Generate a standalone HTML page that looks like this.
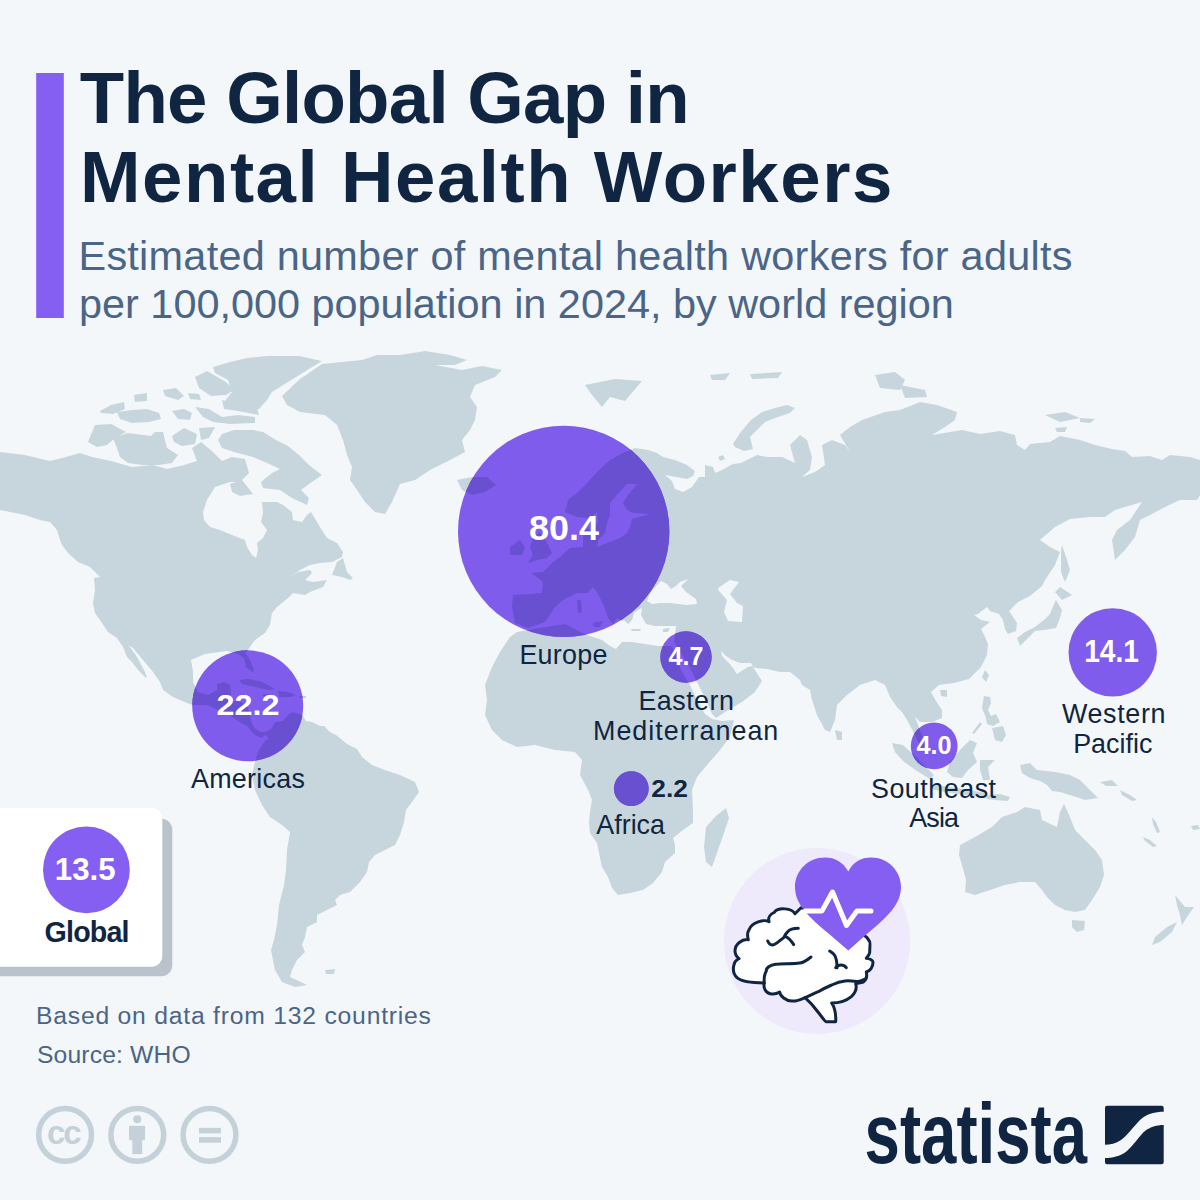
<!DOCTYPE html>
<html><head><meta charset="utf-8"><style>
html,body{margin:0;padding:0;background:#f3f7fa;}
body{width:1200px;height:1200px;overflow:hidden;position:relative;}
svg{position:absolute;left:0;top:0;}
text{font-family:"Liberation Sans",sans-serif;}
</style></head><body>
<svg width="1200" height="1200" viewBox="0 0 1200 1200">
<defs><clipPath id="cc"><circle cx="563.7" cy="531.4" r="105.7"/><circle cx="247.7" cy="705.8" r="55.5"/><circle cx="686" cy="657" r="25.7"/><circle cx="631.3" cy="788.6" r="17.4"/><circle cx="1112.7" cy="652.4" r="44.2"/><circle cx="934.2" cy="745.9" r="23.4"/></clipPath></defs>
<rect x="0" y="0" width="1200" height="1200" fill="#f3f7fa"/>
<rect x="36.2" y="73" width="27.6" height="245" fill="#855ff1"/>
<path d="M0,452 25,455 50,461 66,457 80,453 92,457 111,461 132,467 153,465 167,469 184,465 197,461 192,448 201,442 213,452 222,461 232,457 245,459 249,473 240,482 230,482 215,487 207,500 203,512 204,520 210,527 220,530 237,537 245,540 247,547 252,555 256,558 258,550 257,543 263,538 267,530 261,522 263,513 262,502 277,502 283,505 292,512 293,520 302,522 307,515 311,512 320,527 327,538 337,543 343,552 342,557 332,562 320,563 310,565 300,570 290,577 298,572 310,570 312,573 305,580 313,582 327,580 323,587 310,592 305,595 293,593 288,598 277,607 272,613 270,625 265,633 255,640 250,647 248,650 245,653 249,658 254,670 252,672 246,667 244,658 238,654 227,651 205,654 191,660 193,672 193,682 198,692 208,695 217,690 217,684 224,682 230,685 231,694 230,701 234,701 241,702 247,705 249,712 251,721 255,729 261,732 266,732 272,728 275,722 269,739 266,735 261,738 255,735 247,726 238,721 230,715 220,711 207,705 193,705 187,703 173,697 163,690 160,682 153,672 143,660 133,648 128,645 130,647 137,657 145,672 147,678 145,677 138,670 132,662 127,657 123,647 117,638 108,632 102,623 95,613 93,603 95,590 94,578 100,577 90,567 78,562 68,553 62,545 60,540 57,530 50,522 40,520 25,515 10,512 0,510ZM282,396 300,379 322,364 362,360 377,355 400,355 425,351 450,355 467,360 455,365 435,365 462,370 482,366 502,370 495,377 475,385 470,397 477,407 475,420 470,430 462,440 465,452 450,460 430,470 415,480 400,484 392,502 385,514 375,512 365,502 357,490 350,480 352,467 347,455 343,440 337,425 325,415 300,412 287,405ZM332,575 337,562 343,558 347,572 353,578 350,580 342,577ZM239,680 249,679 262,682 275,689 269,690 255,687 242,684ZM263,694 269,694 268,697 263,696ZM278,691 288,692 296,695 290,697 279,697ZM272,728 275,722 283,721 288,715 293,712 302,715 306,721 312,722 320,726 324,726 330,732 336,735 347,744 357,749 362,757 372,765 385,770 400,775 415,782 419,792 412,802 406,810 404,822 400,835 395,845 385,850 375,855 369,862 367,872 360,882 350,892 340,895 335,900 337,905 327,910 317,915 317,922 307,927 305,937 302,945 305,952 297,960 292,970 290,977 307,985 295,987 282,982 275,970 271,950 274,940 277,925 279,905 284,885 286,870 287,850 290,832 282,825 270,817 262,805 255,790 252,775 255,762 258,752 262,745 266,740 269,739ZM325,970 335,969 334,974 326,974ZM517,632 540,628 565,624 580,632 590,636 602,640 610,646 616,649 622,642 632,642 645,644 658,646 670,646 673,648 677,660 682,672 690,685 697,700 705,714 712,719 722,721 734,720 730,737 720,750 707,765 697,777 692,790 693,810 693,823 683,830 673,838 675,845 675,853 665,862 662,872 653,883 643,890 630,893 618,895 612,888 608,877 602,867 599,853 597,843 590,833 589,822 590,812 592,800 588,790 580,775 582,760 575,752 555,750 535,745 517,747 502,740 492,730 485,715 487,700 485,685 492,667 500,652 510,637ZM726,808 729,818 724,833 717,853 712,867 706,862 704,847 706,827 716,816ZM676,626 666,626 655,626 646,624 641,615 642,608 638,610 634,613 632,620 628,624 624,620 622,613 616,606 607,596 600,585 606,593 614,602 621,611 626,618 622,621 617,618 613,624 608,618 604,606 597,592 593,587 587,593 577,593 563,600 555,607 545,622 528,628 515,623 512,607 513,595 530,594 542,593 543,582 531,573 543,572 553,562 560,557 570,548 583,547 583,533 588,528 590,530 598,522 597,512 590,518 577,517 565,512 568,500 577,493 587,483 597,472 610,460 623,453 635,448 648,450 657,453 663,457 675,460 687,465 695,471 693,476 687,479 676,477 665,475 672,481 675,489 683,492 692,487 699,477 705,477 705,465 713,467 715,473 720,471 733,464 741,463 757,455 767,457 782,457 795,463 790,445 800,435 807,440 812,457 810,470 802,477 815,472 825,465 822,445 832,440 845,445 850,452 840,435 850,427 862,420 885,412 900,410 920,402 937,405 957,412 955,420 945,427 932,435 962,430 980,434 1000,431 1015,435 1017,445 1025,450 1030,444 1050,442 1060,436 1080,440 1095,445 1112,449 1125,451 1132,457 1150,456 1162,460 1170,455 1190,457 1200,460 1200,495 1197,500 1180,500 1165,507 1150,515 1140,520 1135,537 1125,550 1115,560 1112,540 1117,530 1130,520 1142,502 1125,507 1115,510 1105,517 1090,517 1070,519 1055,527 1040,540 1050,547 1060,552 1055,565 1045,580 1042,586 1030,596 1018,602 1009,611 1017,623 1016,631 1008,634 1005,629 1003,620 999,614 990,611 987,607 978,614 974,615 981,620 990,622 981,629 985,637 988,644 987,655 981,667 969,679 954,683 939,685 931,692 936,701 942,710 942,718 932,722 920,722 915,717 920,730 925,742 927,755 922,750 915,735 907,720 902,712 897,707 890,697 885,685 875,680 860,685 847,695 837,705 835,720 830,732 825,730 817,715 812,700 810,690 802,685 800,680 790,672 780,672 767,669 756,668 753,667 762,681 755,692 742,702 725,712 716,718 712,714 706,700 698,684 690,668 682,655 674,642 675,635ZM530,547 533,538 540,532 547,543 552,553 547,558 537,560 528,563 533,555ZM510,547 520,540 525,547 522,555 510,555ZM457,480 472,477 487,477 496,485 485,492 472,495 462,490ZM585,385 600,382 615,379 642,381 630,395 625,401 610,397 602,407 592,395ZM733,444 740,433 751,420 762,412 775,408 787,405 795,408 790,413 778,417 765,422 757,430 750,437 753,449 744,451 735,447ZM710,375 730,373 725,380 712,380ZM750,374 782,372 778,378 752,379ZM875,375 895,372 905,380 900,390 880,388ZM900,385 925,390 927,397 905,398ZM1045,415 1065,412 1080,418 1060,422ZM1080,418 1095,419 1090,423 1080,422ZM1055,428 1067,427 1065,432 1057,432ZM1062,545 1067,560 1070,570 1065,582 1061,572 1061,552ZM1060,587 1072,595 1062,600 1055,592ZM1056,600 1062,610 1060,618 1056,628 1044,630 1035,631 1029,637 1023,643 1020,646 1017,638 1025,632 1035,627 1044,620 1050,614 1054,604ZM985,670 989,675 986,682 982,677ZM940,690 947,690 947,697 941,696ZM984,696 990,697 991,703 988,710 991,716 986,718 982,708ZM992,728 1003,726 1006,735 1002,742 995,740ZM986,718 996,714 1000,722 993,726 987,724ZM835,730 842,732 842,740 837,740ZM892,743 903,745 915,756 927,768 934,775 930,779 917,771 903,761 895,752ZM932,785 950,787 970,790 985,793 983,797 965,795 945,792 931,789ZM947,772 950,762 960,750 970,740 977,743 973,753 977,762 968,770 962,778 953,777ZM980,760 995,760 988,767 990,780 983,780 980,770ZM1020,765 1030,763 1037,770 1055,772 1070,775 1080,780 1090,790 1098,798 1085,800 1070,795 1060,792 1052,791 1047,785 1040,781 1030,778 1022,773ZM1064,804 1070,817 1075,830 1085,840 1095,850 1102,860 1104,875 1100,887 1092,900 1085,910 1075,912 1065,910 1055,905 1047,897 1042,890 1035,882 1020,882 1005,885 990,890 975,895 965,892 966,880 962,865 959,855 960,845 975,837 992,827 1002,817 1017,812 1025,807 1040,810 1042,820 1057,827 1060,812ZM1072,920 1085,921 1084,930 1077,932 1072,927ZM1175,895 1185,907 1194,907 1187,917 1182,925 1180,915 1177,905ZM1177,922 1172,932 1160,942 1152,945 1155,937 1167,927ZM213,367 230,362 247,358 267,356 299,356 322,361 309,369 288,382 272,392 267,400 259,409 242,411 226,409 224,402 232,392 228,380 215,373ZM195,377 207,371 226,382 234,390 226,395 211,396 199,388ZM195,407 209,409 222,417 238,415 255,417 255,423 230,424 213,422 203,417ZM222,400 238,405 257,407 259,415 238,411 224,409ZM163,390 176,388 184,396 178,400 165,396ZM188,393 199,394 201,400 190,399ZM134,395 147,393 147,401 135,402ZM117,412 132,410 147,409 159,413 161,419 149,422 132,423 120,419ZM100,411 111,405 124,402 125,409 113,414 101,413ZM172,411 184,409 192,413 190,420 178,419ZM88,442 95,425 111,424 126,432 115,438 107,445 97,447ZM113,438 128,433 151,436 155,432 163,432 167,448 178,455 172,463 159,465 142,465 128,463 120,457 117,448ZM172,436 184,428 197,434 195,444 182,446 174,442ZM199,428 215,427 209,438 201,440ZM222,434 234,430 253,430 263,432 276,440 288,446 299,455 309,465 322,475 309,484 301,490 309,498 307,505 292,498 280,490 263,488 261,482 272,473 280,469 267,463 253,457 234,452 222,448 218,440ZM230,484 242,480 253,494 240,496 232,492ZM593,623 603,621 600,627 594,627ZM577,600 581,600 582,612 578,613ZM980,722 982,724 974,734 972,733ZM987,795 1000,794 1010,797 1008,801 995,800 986,799ZM718,457 723,455 725,459 720,461ZM663,629 670,628 668,632 663,632ZM631,629 641,629 640,631 632,631ZM1100,782 1112,780 1118,786 1106,786ZM1120,790 1130,795 1137,800 1132,801 1122,795ZM1152,817 1156,822 1160,832 1157,833 1153,824ZM1143,837 1150,840 1157,846 1153,847 1145,841ZM1191,826 1198,825 1200,829 1193,830ZM300,696 306,696 306,698 300,698Z" fill="#c7d6dd" fill-rule="nonzero"/>
<path d="M598,540 597,547 607,543 620,538 627,533 630,527 632,519 650,514 633,513 627,510 623,503 628,495 637,484 627,484 617,495 610,503 610,515 607,523 605,533ZM647,601 650,593 656,586 661,581 667,584 671,589 676,586 680,582 688,579 681,586 686,592 696,599 697,604 686,605 670,603 660,603 652,604ZM718,588 730,580 739,582 730,594 737,603 743,606 742,622 728,621 724,612 727,600 719,591ZM721,651 726,656 732,660 740,663 751,663 753,666 748,667 743,670 737,674 733,668 728,662 722,656Z" fill="#f3f7fa"/>
<circle cx="563.7" cy="531.4" r="105.7" fill="#7f5cec"/><circle cx="247.7" cy="705.8" r="55.5" fill="#7f5cec"/><circle cx="686" cy="657" r="25.7" fill="#7f5cec"/><circle cx="631.3" cy="788.6" r="17.4" fill="#7f5cec"/><circle cx="1112.7" cy="652.4" r="44.2" fill="#7f5cec"/><circle cx="934.2" cy="745.9" r="23.4" fill="#7f5cec"/>
<g clip-path="url(#cc)"><path d="M0,452 25,455 50,461 66,457 80,453 92,457 111,461 132,467 153,465 167,469 184,465 197,461 192,448 201,442 213,452 222,461 232,457 245,459 249,473 240,482 230,482 215,487 207,500 203,512 204,520 210,527 220,530 237,537 245,540 247,547 252,555 256,558 258,550 257,543 263,538 267,530 261,522 263,513 262,502 277,502 283,505 292,512 293,520 302,522 307,515 311,512 320,527 327,538 337,543 343,552 342,557 332,562 320,563 310,565 300,570 290,577 298,572 310,570 312,573 305,580 313,582 327,580 323,587 310,592 305,595 293,593 288,598 277,607 272,613 270,625 265,633 255,640 250,647 248,650 245,653 249,658 254,670 252,672 246,667 244,658 238,654 227,651 205,654 191,660 193,672 193,682 198,692 208,695 217,690 217,684 224,682 230,685 231,694 230,701 234,701 241,702 247,705 249,712 251,721 255,729 261,732 266,732 272,728 275,722 269,739 266,735 261,738 255,735 247,726 238,721 230,715 220,711 207,705 193,705 187,703 173,697 163,690 160,682 153,672 143,660 133,648 128,645 130,647 137,657 145,672 147,678 145,677 138,670 132,662 127,657 123,647 117,638 108,632 102,623 95,613 93,603 95,590 94,578 100,577 90,567 78,562 68,553 62,545 60,540 57,530 50,522 40,520 25,515 10,512 0,510ZM282,396 300,379 322,364 362,360 377,355 400,355 425,351 450,355 467,360 455,365 435,365 462,370 482,366 502,370 495,377 475,385 470,397 477,407 475,420 470,430 462,440 465,452 450,460 430,470 415,480 400,484 392,502 385,514 375,512 365,502 357,490 350,480 352,467 347,455 343,440 337,425 325,415 300,412 287,405ZM332,575 337,562 343,558 347,572 353,578 350,580 342,577ZM239,680 249,679 262,682 275,689 269,690 255,687 242,684ZM263,694 269,694 268,697 263,696ZM278,691 288,692 296,695 290,697 279,697ZM272,728 275,722 283,721 288,715 293,712 302,715 306,721 312,722 320,726 324,726 330,732 336,735 347,744 357,749 362,757 372,765 385,770 400,775 415,782 419,792 412,802 406,810 404,822 400,835 395,845 385,850 375,855 369,862 367,872 360,882 350,892 340,895 335,900 337,905 327,910 317,915 317,922 307,927 305,937 302,945 305,952 297,960 292,970 290,977 307,985 295,987 282,982 275,970 271,950 274,940 277,925 279,905 284,885 286,870 287,850 290,832 282,825 270,817 262,805 255,790 252,775 255,762 258,752 262,745 266,740 269,739ZM325,970 335,969 334,974 326,974ZM517,632 540,628 565,624 580,632 590,636 602,640 610,646 616,649 622,642 632,642 645,644 658,646 670,646 673,648 677,660 682,672 690,685 697,700 705,714 712,719 722,721 734,720 730,737 720,750 707,765 697,777 692,790 693,810 693,823 683,830 673,838 675,845 675,853 665,862 662,872 653,883 643,890 630,893 618,895 612,888 608,877 602,867 599,853 597,843 590,833 589,822 590,812 592,800 588,790 580,775 582,760 575,752 555,750 535,745 517,747 502,740 492,730 485,715 487,700 485,685 492,667 500,652 510,637ZM726,808 729,818 724,833 717,853 712,867 706,862 704,847 706,827 716,816ZM676,626 666,626 655,626 646,624 641,615 642,608 638,610 634,613 632,620 628,624 624,620 622,613 616,606 607,596 600,585 606,593 614,602 621,611 626,618 622,621 617,618 613,624 608,618 604,606 597,592 593,587 587,593 577,593 563,600 555,607 545,622 528,628 515,623 512,607 513,595 530,594 542,593 543,582 531,573 543,572 553,562 560,557 570,548 583,547 583,533 588,528 590,530 598,522 597,512 590,518 577,517 565,512 568,500 577,493 587,483 597,472 610,460 623,453 635,448 648,450 657,453 663,457 675,460 687,465 695,471 693,476 687,479 676,477 665,475 672,481 675,489 683,492 692,487 699,477 705,477 705,465 713,467 715,473 720,471 733,464 741,463 757,455 767,457 782,457 795,463 790,445 800,435 807,440 812,457 810,470 802,477 815,472 825,465 822,445 832,440 845,445 850,452 840,435 850,427 862,420 885,412 900,410 920,402 937,405 957,412 955,420 945,427 932,435 962,430 980,434 1000,431 1015,435 1017,445 1025,450 1030,444 1050,442 1060,436 1080,440 1095,445 1112,449 1125,451 1132,457 1150,456 1162,460 1170,455 1190,457 1200,460 1200,495 1197,500 1180,500 1165,507 1150,515 1140,520 1135,537 1125,550 1115,560 1112,540 1117,530 1130,520 1142,502 1125,507 1115,510 1105,517 1090,517 1070,519 1055,527 1040,540 1050,547 1060,552 1055,565 1045,580 1042,586 1030,596 1018,602 1009,611 1017,623 1016,631 1008,634 1005,629 1003,620 999,614 990,611 987,607 978,614 974,615 981,620 990,622 981,629 985,637 988,644 987,655 981,667 969,679 954,683 939,685 931,692 936,701 942,710 942,718 932,722 920,722 915,717 920,730 925,742 927,755 922,750 915,735 907,720 902,712 897,707 890,697 885,685 875,680 860,685 847,695 837,705 835,720 830,732 825,730 817,715 812,700 810,690 802,685 800,680 790,672 780,672 767,669 756,668 753,667 762,681 755,692 742,702 725,712 716,718 712,714 706,700 698,684 690,668 682,655 674,642 675,635ZM530,547 533,538 540,532 547,543 552,553 547,558 537,560 528,563 533,555ZM510,547 520,540 525,547 522,555 510,555ZM457,480 472,477 487,477 496,485 485,492 472,495 462,490ZM585,385 600,382 615,379 642,381 630,395 625,401 610,397 602,407 592,395ZM733,444 740,433 751,420 762,412 775,408 787,405 795,408 790,413 778,417 765,422 757,430 750,437 753,449 744,451 735,447ZM710,375 730,373 725,380 712,380ZM750,374 782,372 778,378 752,379ZM875,375 895,372 905,380 900,390 880,388ZM900,385 925,390 927,397 905,398ZM1045,415 1065,412 1080,418 1060,422ZM1080,418 1095,419 1090,423 1080,422ZM1055,428 1067,427 1065,432 1057,432ZM1062,545 1067,560 1070,570 1065,582 1061,572 1061,552ZM1060,587 1072,595 1062,600 1055,592ZM1056,600 1062,610 1060,618 1056,628 1044,630 1035,631 1029,637 1023,643 1020,646 1017,638 1025,632 1035,627 1044,620 1050,614 1054,604ZM985,670 989,675 986,682 982,677ZM940,690 947,690 947,697 941,696ZM984,696 990,697 991,703 988,710 991,716 986,718 982,708ZM992,728 1003,726 1006,735 1002,742 995,740ZM986,718 996,714 1000,722 993,726 987,724ZM835,730 842,732 842,740 837,740ZM892,743 903,745 915,756 927,768 934,775 930,779 917,771 903,761 895,752ZM932,785 950,787 970,790 985,793 983,797 965,795 945,792 931,789ZM947,772 950,762 960,750 970,740 977,743 973,753 977,762 968,770 962,778 953,777ZM980,760 995,760 988,767 990,780 983,780 980,770ZM1020,765 1030,763 1037,770 1055,772 1070,775 1080,780 1090,790 1098,798 1085,800 1070,795 1060,792 1052,791 1047,785 1040,781 1030,778 1022,773ZM1064,804 1070,817 1075,830 1085,840 1095,850 1102,860 1104,875 1100,887 1092,900 1085,910 1075,912 1065,910 1055,905 1047,897 1042,890 1035,882 1020,882 1005,885 990,890 975,895 965,892 966,880 962,865 959,855 960,845 975,837 992,827 1002,817 1017,812 1025,807 1040,810 1042,820 1057,827 1060,812ZM1072,920 1085,921 1084,930 1077,932 1072,927ZM1175,895 1185,907 1194,907 1187,917 1182,925 1180,915 1177,905ZM1177,922 1172,932 1160,942 1152,945 1155,937 1167,927ZM213,367 230,362 247,358 267,356 299,356 322,361 309,369 288,382 272,392 267,400 259,409 242,411 226,409 224,402 232,392 228,380 215,373ZM195,377 207,371 226,382 234,390 226,395 211,396 199,388ZM195,407 209,409 222,417 238,415 255,417 255,423 230,424 213,422 203,417ZM222,400 238,405 257,407 259,415 238,411 224,409ZM163,390 176,388 184,396 178,400 165,396ZM188,393 199,394 201,400 190,399ZM134,395 147,393 147,401 135,402ZM117,412 132,410 147,409 159,413 161,419 149,422 132,423 120,419ZM100,411 111,405 124,402 125,409 113,414 101,413ZM172,411 184,409 192,413 190,420 178,419ZM88,442 95,425 111,424 126,432 115,438 107,445 97,447ZM113,438 128,433 151,436 155,432 163,432 167,448 178,455 172,463 159,465 142,465 128,463 120,457 117,448ZM172,436 184,428 197,434 195,444 182,446 174,442ZM199,428 215,427 209,438 201,440ZM222,434 234,430 253,430 263,432 276,440 288,446 299,455 309,465 322,475 309,484 301,490 309,498 307,505 292,498 280,490 263,488 261,482 272,473 280,469 267,463 253,457 234,452 222,448 218,440ZM230,484 242,480 253,494 240,496 232,492ZM593,623 603,621 600,627 594,627ZM577,600 581,600 582,612 578,613ZM980,722 982,724 974,734 972,733ZM987,795 1000,794 1010,797 1008,801 995,800 986,799ZM718,457 723,455 725,459 720,461ZM663,629 670,628 668,632 663,632ZM631,629 641,629 640,631 632,631ZM1100,782 1112,780 1118,786 1106,786ZM1120,790 1130,795 1137,800 1132,801 1122,795ZM1152,817 1156,822 1160,832 1157,833 1153,824ZM1143,837 1150,840 1157,846 1153,847 1145,841ZM1191,826 1198,825 1200,829 1193,830ZM300,696 306,696 306,698 300,698Z" fill="#6850d1"/><path d="M598,540 597,547 607,543 620,538 627,533 630,527 632,519 650,514 633,513 627,510 623,503 628,495 637,484 627,484 617,495 610,503 610,515 607,523 605,533ZM647,601 650,593 656,586 661,581 667,584 671,589 676,586 680,582 688,579 681,586 686,592 696,599 697,604 686,605 670,603 660,603 652,604ZM718,588 730,580 739,582 730,594 737,603 743,606 742,622 728,621 724,612 727,600 719,591ZM721,651 726,656 732,660 740,663 751,663 753,666 748,667 743,670 737,674 733,668 728,662 722,656Z" fill="#7f5cec"/></g>
<rect x="-20" y="818.7" width="192.3" height="157.6" rx="11" fill="#bac2cc"/>
<rect x="-20" y="808" width="182.3" height="158.8" rx="11" fill="#ffffff"/>
<circle cx="86.4" cy="869.8" r="43.4" fill="#855ff1"/>
<circle cx="817" cy="941" r="93" fill="#eee9fb"/>
<g stroke="#0f2541" stroke-width="3" stroke-linecap="round" stroke-linejoin="round">
<path fill="#ffffff" d="M801,907.7 L795,913.7 C792,908 778,907 774.3,912.3 C770,914 768,918 769,921.7 C764,919 752,922 749,929.7 C747,933 747.5,937 748.3,939.7 C742,939 735,944 735,951 C735,954 737,957 739,958.7 C733,961 731,972 737,977.7 C742,982 752,983 764.3,983 C763,988 766,993 770.3,993.7 C774,994.5 778,993 779.7,992 C780,996 786,1001 791.7,1001 C797,1001.5 802,999 805,997.7 C810,1002 815,1008 818,1012 C822,1017 825,1021.7 826.3,1021.7 L835.7,1021.7 C836,1016 835,1008 831.7,1003 C838,1003 846,1001 851.7,996.3 C856,992 857,988 855.7,983.7 C860,983 864,982 863.7,981.7 C867,979 867,975 866.3,972 C870,971 873,967 873,962.3 C873,960 869,958.5 866.3,958.3 C869,955 870,952 869.7,951 C870,946 870,942 869.7,941.7 L867,937.7 L840,915 Z"/>
<path fill="none" d="M767.7,941 C769,944 771,945 772.3,945 C776,945 780,940 783.7,937.7 C785,935 786,933 787.7,931.7 C790,929 794,928.3 798.3,928.3"/>
<path fill="none" d="M785.7,936.6 C789,938 792,942 793.7,944.6"/>
<path fill="none" d="M811,957 C806,961 803,963 799.7,963 C793,964 782,963.5 775.7,964.3 C770,965 766,968 766.3,971 C764,975 764,980 764.3,983"/>
<path fill="none" d="M805,997.7 C809,996 814,993.5 818.3,991.7 C823,989 827,987 831.7,985 C836,983 840,981.5 845,981 C850,980.5 855,981.4 858.3,981.4 C861,981 863,980 865,979"/>
<path fill="none" d="M829.7,951 C833,953 835,955 835.7,957.7 C837,961 837,964 837,967.7"/>
<path fill="none" d="M835.7,967.7 C837,966 839,965 841,965 C843,965 845,966 846.3,967.7"/>
</g>
<path fill="#855ff1" d="M848.3,871.5 C843,862 835,857.5 825,857.5 C808,857.5 795,871 795,887 C795,905 810,918 828,933 L848.3,950.6 L868,933 C886,918 901,905 901,887 C901,871 888,857.5 871,857.5 C861,857.5 853,862 848.3,871.5 Z"/>
<path fill="none" stroke="#ffffff" stroke-width="5" stroke-linecap="round" stroke-linejoin="round" d="M805.4,910.9 L822,910.9 L832.5,892 L846.5,925.5 L857,910.9 L871,910.9"/>
<g fill="none" stroke="#c5d1d9" stroke-width="5.5">
<circle cx="65.1" cy="1134.8" r="26.4"/><circle cx="137.3" cy="1134.8" r="26.4"/><circle cx="209.5" cy="1134.8" r="26.4"/></g>
<g fill="#c5d1d9">
<text x="47" y="1144" font-size="33" font-weight="bold" letter-spacing="-2">cc</text>
<circle cx="137.3" cy="1119.3" r="4"/>
<rect x="129" y="1125.7" width="16.1" height="14.5" rx="1"/>
<rect x="132.3" y="1136" width="9.9" height="18.1"/>
<rect x="199" y="1127.9" width="22" height="5.5"/>
<rect x="199" y="1137.2" width="22" height="5.5"/>
</g>
<g transform="translate(864.6,0) scale(0.7472,1)"><text x="-0.00" y="1163" font-size="85" font-weight="bold" fill="#0f2541">statista</text></g>
<path fill="#0f2541" d="M1105,1107.7 Q1105,1105.7 1107,1105.7 L1161.7,1105.7 Q1163.7,1105.7 1163.7,1107.7 L1163.7,1111.7 C1155,1111.7 1147,1113.5 1140,1120 C1133,1127 1128,1135 1121,1140 C1116,1143.5 1110,1144.7 1105,1144.7 Z"/>
<path fill="#0f2541" d="M1163.7,1125 L1163.7,1162.3 Q1163.7,1164.3 1161.7,1164.3 L1107,1164.3 Q1105,1164.3 1105,1162.3 L1105,1158 C1112,1158 1120,1156.5 1127,1151 C1134,1145 1139,1136 1145,1131 C1150,1127 1157,1125 1163.7,1125 Z"/>
<text x="79.80" y="123.30" font-size="72.674" font-weight="bold" fill="#0f2541" letter-spacing="-0.737">The Global Gap in</text>
<text x="80.00" y="202.00" font-size="72.674" font-weight="bold" fill="#0f2541" letter-spacing="1.525">Mental Health Workers</text>
<text x="78.50" y="270.00" font-size="41.424" font-weight="normal" fill="#4a6587" letter-spacing="0.265">Estimated number of mental health workers for adults</text>
<text x="79.00" y="318.00" font-size="41.424" font-weight="normal" fill="#4a6587" letter-spacing="0.000">per 100,000 population in 2024, by world region</text>
<g transform="translate(530.00,0) scale(1.0088,1)"><text x="-1.00" y="540.00" font-size="35.610" font-weight="bold" fill="#ffffff">80.4</text></g>
<text x="519.40" y="664.00" font-size="26.890" font-weight="normal" fill="#0f2541" letter-spacing="0.300">Europe</text>
<g transform="translate(217.50,0) scale(1.0875,1)"><text x="-1.00" y="715.00" font-size="29.797" font-weight="bold" fill="#ffffff">22.2</text></g>
<text x="191.00" y="788.00" font-size="26.890" font-weight="normal" fill="#0f2541" letter-spacing="0.271">Americas</text>
<g transform="translate(668.50,0) scale(1.0029,1)"><text x="-0.00" y="665.00" font-size="25.000" font-weight="bold" fill="#ffffff">4.7</text></g>
<text x="638.40" y="709.70" font-size="26.890" font-weight="normal" fill="#0f2541" letter-spacing="0.483">Eastern</text>
<text x="593.00" y="739.80" font-size="26.890" font-weight="normal" fill="#0f2541" letter-spacing="1.000">Mediterranean</text>
<g transform="translate(652.40,0) scale(1.0906,1)"><text x="-1.00" y="797.20" font-size="24.128" font-weight="bold" fill="#0f2541">2.2</text></g>
<text x="596.30" y="834.20" font-size="26.890" font-weight="normal" fill="#0f2541" letter-spacing="0.000">Africa</text>
<g transform="translate(1086.00,0) scale(0.9105,1)"><text x="-2.00" y="662.50" font-size="30.959" font-weight="bold" fill="#ffffff">14.1</text></g>
<text x="1061.90" y="723.30" font-size="26.890" font-weight="normal" fill="#0f2541" letter-spacing="0.683">Western</text>
<text x="1073.20" y="752.70" font-size="26.890" font-weight="normal" fill="#0f2541" letter-spacing="0.000">Pacific</text>
<g transform="translate(916.50,0) scale(1.0059,1)"><text x="-0.00" y="754.00" font-size="25.145" font-weight="bold" fill="#ffffff">4.0</text></g>
<text x="871.00" y="798.00" font-size="26.890" font-weight="normal" fill="#0f2541" letter-spacing="0.500">Southeast</text>
<text x="909.30" y="827.30" font-size="26.890" font-weight="normal" fill="#0f2541" letter-spacing="-0.867">Asia</text>
<g transform="translate(56.70,0) scale(0.9683,1)"><text x="-2.00" y="880.50" font-size="32.267" font-weight="bold" fill="#ffffff">13.5</text></g>
<text x="44.60" y="942.20" font-size="28.634" font-weight="bold" fill="#0f2541" letter-spacing="-0.820">Global</text>
<text x="36.00" y="1023.70" font-size="24.709" font-weight="normal" fill="#4a6587" letter-spacing="0.787">Based on data from 132 countries</text>
<text x="37.00" y="1062.50" font-size="24.709" font-weight="normal" fill="#4a6587" letter-spacing="0.140">Source: WHO</text>
</svg>
</body></html>
